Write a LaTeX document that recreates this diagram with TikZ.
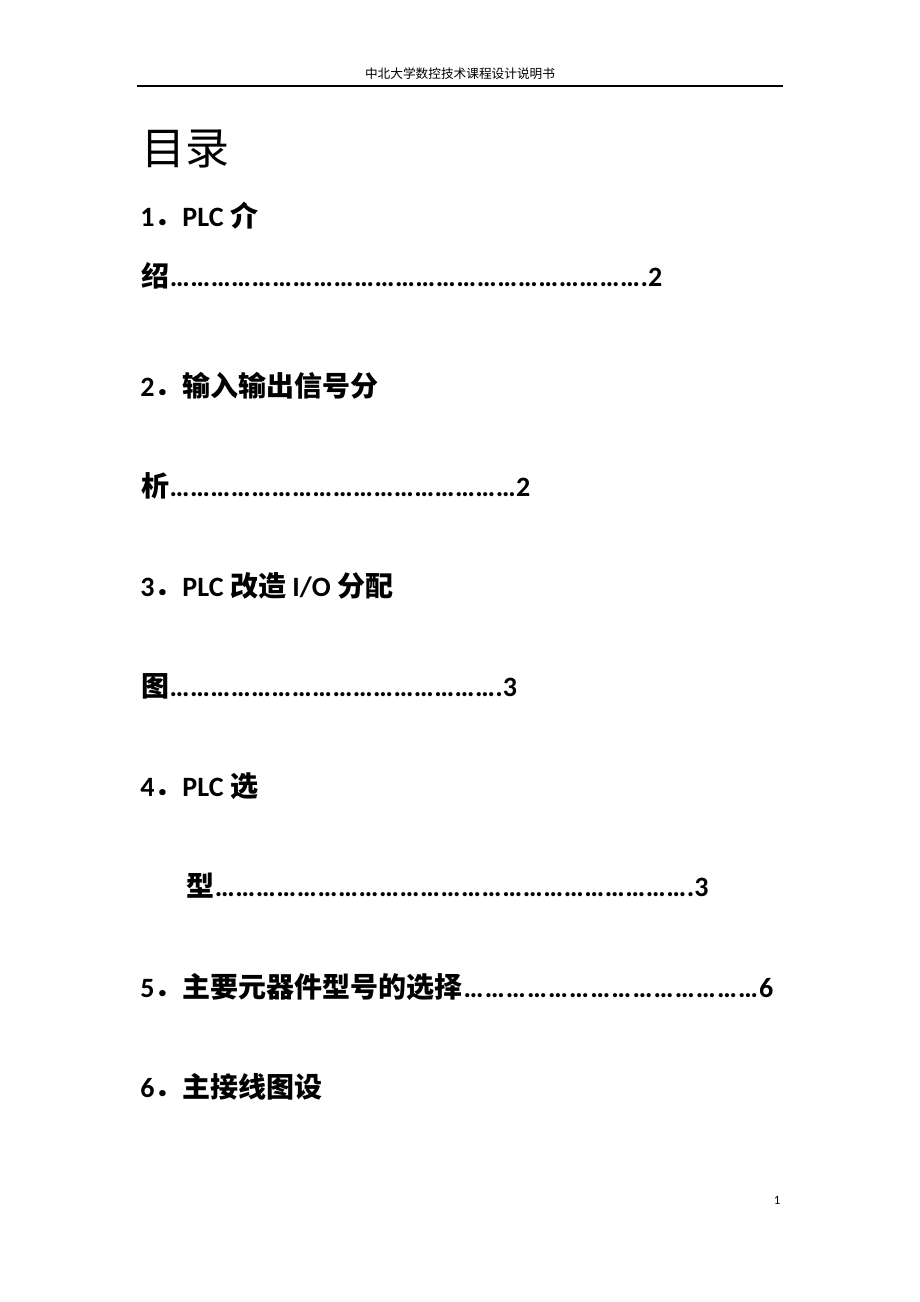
\documentclass[tikz,border=0pt]{standalone}
\usepackage{fontspec}
\setmainfont{Carlito}
\newfontfamily\cjk{Noto Sans CJK SC}
\newcommand\zh[1]{{\cjk #1}}
\newcommand\dotrow[3]{\makebox[#1][l]{#2\xleaders\hbox{…}\hfill #3}}
\tikzset{
  entry/.style={anchor=base west, inner sep=0pt, font=\fontsize{21}{25}\selectfont\bfseries},
  head/.style={anchor=base, inner sep=0pt, font=\fontsize{9.5}{11}\selectfont}
}
\begin{document}
\begin{tikzpicture}[x=0.75pt,y=-0.75pt]
\useasboundingbox[fill=white] (0,0) rectangle (920,1302);
\node[head] (hdr) at (460,79) {\zh{中北大学数控技术课程设计说明书}};
\draw[line width=0.8pt] (137,86) coordinate (hl) -- (783,86) coordinate (hr);
\node[entry, font=\fontsize{33}{38}\selectfont] (title) at (141,165) {\zh{目录}};
\node[entry] (e1) at (140,226) {1\zh{．}PLC \zh{介}};
\node[entry] (e1b) at (141,286) {\dotrow{391pt}{\zh{绍}}{.2}};
\node[entry] (e2) at (140,396) {2\zh{．输入输出信号分}};
\node[entry] (e2b) at (141,496) {\dotrow{292pt}{\zh{析}}{2}};
\node[entry] (e3) at (140,596) {3\zh{．}PLC \zh{改造} I/O \zh{分配}};
\node[entry] (e3b) at (141,696) {\dotrow{282pt}{\zh{图}}{.3}};
\node[entry] (e4) at (140,796) {4\zh{．}PLC \zh{选}};
\node[entry] (e4b) at (186,896) {\dotrow{392pt}{\zh{型}}{.3}};
\node[entry] (e5) at (140,997) {\dotrow{475pt}{5\zh{．主要元器件型号的选择}}{6}};
\node[entry] (e6) at (140,1097) {6\zh{．主接线图设}};
\node[anchor=base, inner sep=0pt, font=\fontsize{9.5}{11}\selectfont] (pg) at (777,1204) {1};
\end{tikzpicture}
\end{document}
